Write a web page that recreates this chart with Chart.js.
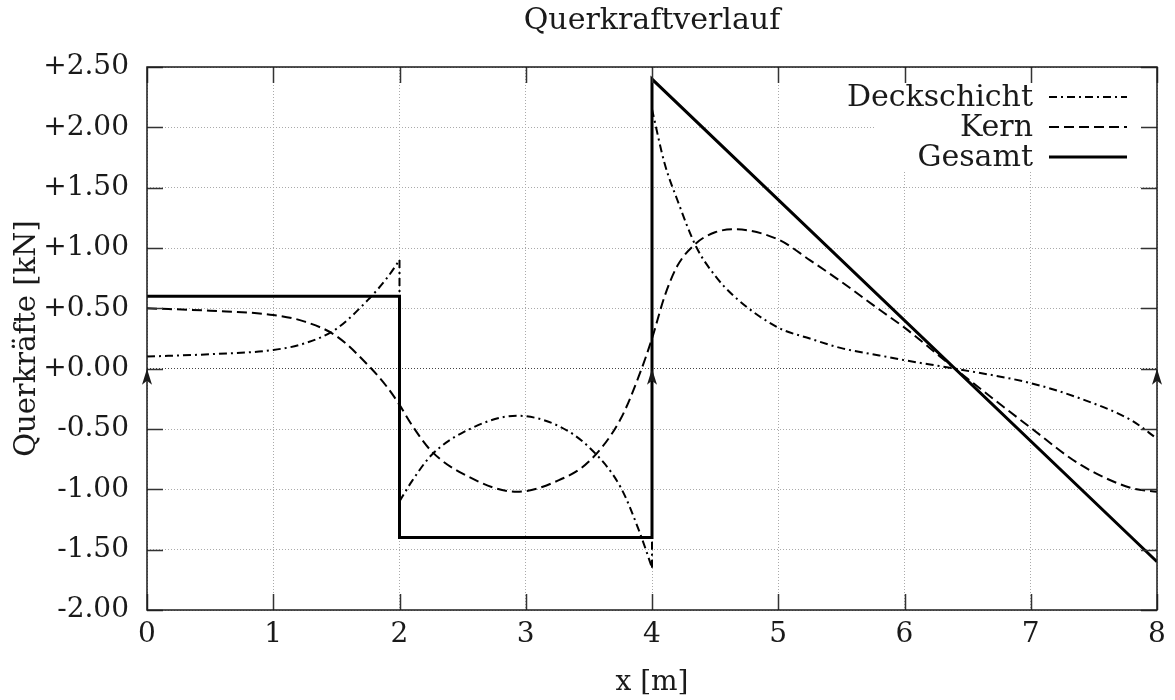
<!DOCTYPE html>
<html>
<head>
<meta charset="utf-8">
<title>Querkraftverlauf</title>
<script src="https://cdn.jsdelivr.net/npm/chart.js@4.4.0/dist/chart.umd.min.js"></script>
<style>
  html, body { margin: 0; padding: 0; background: #fff; }
  canvas { display: block; }
</style>
</head>
<body>
<canvas id="chart" width="1175" height="700"></canvas>
<script>
// values (x in m, forces in kN)
const gesamtX = [0, 2, 2, 4, 4, 8];
const gesamtY = [0.6, 0.6, -1.4, -1.4, 2.4, -1.6];

const kernX = [0, 0.5, 1, 1.25, 1.5, 1.75, 1.9, 2, 2.1, 2.25, 2.5, 2.93, 3.25, 3.5, 3.75, 3.9, 4,
  4.1, 4.2, 4.35, 4.5, 4.65, 5, 5.25, 5.5, 5.8, 6, 6.4, 7, 7.4, 7.8, 8];
const kernY = [0.5, 0.48, 0.445, 0.39, 0.27, 0.03, -0.15, -0.3, -0.47, -0.68, -0.87, -1.02, -0.93, -0.77, -0.42, -0.05, 0.25,
  0.6, 0.85, 1.04, 1.13, 1.155, 1.07, 0.9, 0.72, 0.49, 0.34, 0.0, -0.49, -0.8, -0.99, -1.02];

// a repeated x means a jump
const deckX = [0, 0.5, 1, 1.25, 1.5, 1.75, 1.9, 2,
  2, 2.1, 2.25, 2.5, 2.93, 3.25, 3.5, 3.75, 3.9, 4,
  4, 4.1, 4.2, 4.35, 4.5, 4.65, 5, 5.25, 5.5, 5.8, 6, 6.4, 7, 7.4, 7.8, 8];
const deckY = [0.1, 0.12, 0.155, 0.21, 0.33, 0.57, 0.75, 0.9,
  -1.1, -0.93, -0.72, -0.53, -0.39, -0.47, -0.65, -0.98, -1.35, -1.65,
  2.15, 1.7, 1.4, 1.01, 0.77, 0.6, 0.34, 0.25, 0.17, 0.11, 0.07, 0.0, -0.12, -0.25, -0.43, -0.58];

const supports = [0, 4, 8];

const FONT = "'DejaVu Serif', 'Liberation Serif', serif";
const INK = '#1a1a1a';
const DASH_DECK = [8, 4, 2, 4];
const DASH_KERN = [10, 5];

const toPoints = (xs, ys) => xs.map((x, i) => ({ x, y: ys[i] }));

// break the curve at jumps, keep the jumps as straight pieces
function splitJumps(xs, ys) {
  const curve = [];
  const jumps = [];
  xs.forEach((x, i) => {
    if (i > 0 && x === xs[i - 1]) {
      curve.push({ x, y: null });
      jumps.push({ x, y: ys[i - 1] }, { x, y: ys[i] }, { x, y: null });
    }
    curve.push({ x, y: ys[i] });
  });
  return { curve, jumps };
}

const deck = splitJumps(deckX, deckY);

const legendRows = [
  { label: 'Deckschicht', dash: DASH_DECK, width: 2 },
  { label: 'Kern', dash: DASH_KERN, width: 2 },
  { label: 'Gesamt', dash: [], width: 3 },
];

const legendBackdrop = {
  id: 'legendBackdrop',
  beforeDatasetsDraw(chart) {
    const { ctx, chartArea: a } = chart;
    ctx.save();
    ctx.fillStyle = '#fff';
    ctx.fillRect(a.right - 282, a.top + 1, 281, 103);
    ctx.restore();
  },
};

const frame = {
  id: 'frame',
  afterDatasetsDraw(chart) {
    const { ctx, chartArea: a, scales } = chart;
    const xs = scales.x;
    const ys = scales.y;
    ctx.save();

    // inside ticks, mirrored
    ctx.strokeStyle = '#333';
    ctx.lineWidth = 1.5;
    ctx.beginPath();
    ys.ticks.forEach(t => {
      const py = Math.round(ys.getPixelForValue(t.value)) + 0.5;
      ctx.moveTo(a.left, py); ctx.lineTo(a.left + 16, py);
      ctx.moveTo(a.right, py); ctx.lineTo(a.right - 16, py);
    });
    xs.ticks.forEach(t => {
      const px = Math.round(xs.getPixelForValue(t.value)) + 0.5;
      ctx.moveTo(px, a.bottom); ctx.lineTo(px, a.bottom - 16);
      ctx.moveTo(px, a.top); ctx.lineTo(px, a.top + 16);
    });
    ctx.stroke();

    // border
    ctx.strokeStyle = INK;
    ctx.lineWidth = 1.5;
    ctx.strokeRect(a.left, a.top, a.right - a.left, a.bottom - a.top);

    // supports
    ctx.fillStyle = INK;
    const y0 = ys.getPixelForValue(0);
    supports.forEach(s => {
      const px = xs.getPixelForValue(s);
      ctx.beginPath();
      ctx.moveTo(px, y0);
      ctx.lineTo(px - 5, y0 + 16);
      ctx.lineTo(px, y0 + 12);
      ctx.lineTo(px + 5, y0 + 16);
      ctx.closePath();
      ctx.fill();
    });

    // legend
    ctx.font = '30px ' + FONT;
    ctx.textAlign = 'right';
    ctx.textBaseline = 'middle';
    legendRows.forEach((row, i) => {
      const py = a.top + 31 + i * 30;
      ctx.fillStyle = INK;
      ctx.fillText(row.label, a.right - 124, py);
      ctx.strokeStyle = '#000';
      ctx.lineWidth = row.width;
      ctx.setLineDash(row.dash);
      ctx.beginPath();
      ctx.moveTo(a.right - 108, py - 1);
      ctx.lineTo(a.right - 30, py - 1);
      ctx.stroke();
    });
    ctx.restore();
  },
};

const lineBase = { pointRadius: 0, fill: false, borderColor: '#000' };

new Chart(document.getElementById('chart'), {
  type: 'line',
  data: {
    datasets: [
      { ...lineBase, label: 'Gesamt', data: toPoints(gesamtX, gesamtY), borderWidth: 3, tension: 0, order: 0 },
      { ...lineBase, label: 'Kern', data: toPoints(kernX, kernY), borderWidth: 2, borderDash: DASH_KERN, cubicInterpolationMode: 'monotone', order: 1 },
      { ...lineBase, label: 'Deckschicht', data: deck.curve, borderWidth: 2, borderDash: DASH_DECK, cubicInterpolationMode: 'monotone', order: 2 },
      { ...lineBase, label: 'Deckschicht Sprung', data: deck.jumps, borderWidth: 2, borderDash: DASH_DECK, tension: 0, order: 3 },
    ],
  },
  options: {
    responsive: false,
    animation: false,
    devicePixelRatio: 1,
    layout: { padding: { left: 0, right: 18, top: 0, bottom: 0 } },
    plugins: {
      legend: { display: false },
      tooltip: { enabled: false },
      title: {
        display: true,
        fullSize: false,
        text: 'Querkraftverlauf',
        color: INK,
        font: { family: FONT, size: 30, weight: 'normal' },
        padding: { top: 3, bottom: 28 },
      },
    },
    scales: {
      x: {
        type: 'linear',
        min: 0,
        max: 8,
        afterFit: s => { s.height = 90; },
        ticks: { stepSize: 1, padding: 8, color: INK, font: { family: FONT, size: 28 } },
        grid: { drawTicks: false, color: '#aaa', lineWidth: 1 },
        border: { display: false, dash: [1, 2] },
        title: { display: true, text: 'x [m]', color: INK, font: { family: FONT, size: 28 }, padding: { top: 0, bottom: 0 } },
      },
      y: {
        type: 'linear',
        min: -2,
        max: 2.5,
        afterFit: s => { s.width = 147; },
        ticks: {
          stepSize: 0.5,
          padding: 18,
          color: INK,
          font: { family: FONT, size: 28 },
          callback: v => (v >= 0 ? '+' : '') + Number(v).toFixed(2),
        },
        grid: {
          drawTicks: false,
          color: ctx => (ctx.tick && Math.abs(ctx.tick.value) < 1e-9 ? '#444' : '#aaa'),
          lineWidth: 1,
        },
        border: { display: false, dash: [1, 2] },
        title: { display: true, text: 'Querkräfte [kN]', color: INK, font: { family: FONT, size: 29 }, padding: { top: 10, bottom: 0 } },
      },
    },
  },
  plugins: [legendBackdrop, frame],
});
</script>
</body>
</html>
